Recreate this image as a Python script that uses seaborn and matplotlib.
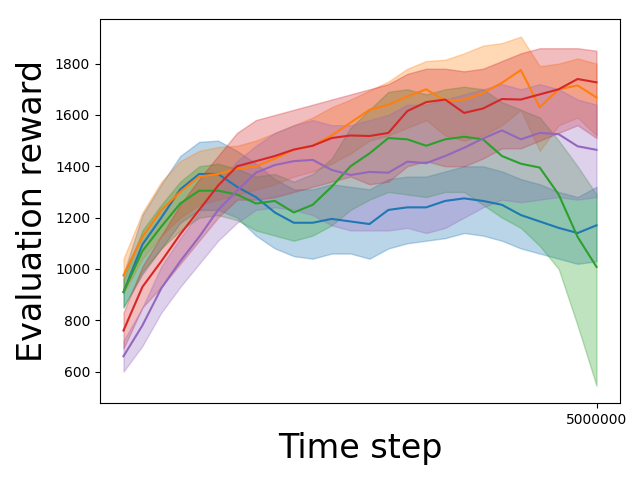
import numpy as np
import pandas as pd
import seaborn as sns
import matplotlib.pyplot as plt

# -----------------------------
# Data
# -----------------------------
steps = [0, 200000, 400000, 600000, 800000, 1000000, 1200000, 1400000, 1600000,
         1800000, 2000000, 2200000, 2400000, 2600000, 2800000, 3000000, 3200000,
         3400000, 3600000, 3800000, 4000000, 4200000, 4400000, 4600000, 4800000,
         5000000]

blue_mean = [910, 1095, 1200, 1310, 1370, 1370, 1320, 1280, 1220, 1180, 1180, 1195, 1185,
             1175, 1230, 1240, 1240, 1265, 1275, 1265, 1250, 1210, 1185, 1160, 1140, 1170]
blue_low = [850, 980, 1080, 1180, 1230, 1230, 1200, 1130, 1080, 1050, 1040, 1060, 1060,
            1040, 1080, 1100, 1110, 1120, 1140, 1130, 1110, 1080, 1060, 1040, 1020, 1030]
blue_high = [980, 1210, 1330, 1440, 1495, 1500, 1460, 1410, 1350, 1310, 1310, 1330, 1320,
             1310, 1350, 1360, 1360, 1380, 1400, 1400, 1380, 1350, 1330, 1300, 1280, 1320]

orange_mean = [975, 1125, 1230, 1300, 1360, 1370, 1390, 1400, 1430, 1465, 1480, 1520, 1570,
               1620, 1640, 1672, 1700, 1655, 1660, 1685, 1725, 1775, 1630, 1700, 1715, 1668]
orange_low = [905, 1040, 1130, 1200, 1250, 1270, 1290, 1310, 1330, 1360, 1380, 1410, 1450,
              1500, 1520, 1550, 1580, 1520, 1500, 1520, 1560, 1620, 1460, 1560, 1590, 1520]
orange_high = [1040, 1220, 1340, 1420, 1460, 1475, 1480, 1500, 1530, 1560, 1590, 1630, 1660,
               1695, 1730, 1780, 1810, 1815, 1840, 1870, 1880, 1905, 1790, 1800, 1820, 1800]

green_mean = [910, 1070, 1165, 1255, 1305, 1305, 1290, 1255, 1265, 1220, 1250, 1320, 1400,
              1450, 1510, 1505, 1480, 1505, 1515, 1505, 1440, 1410, 1395, 1290, 1125, 1008]
green_low = [850, 990, 1080, 1150, 1200, 1210, 1190, 1150, 1130, 1110, 1130, 1170, 1230,
             1270, 1300, 1290, 1280, 1300, 1300, 1250, 1200, 1160, 1090, 1000, 780, 545]
green_high = [960, 1150, 1250, 1340, 1400, 1410, 1390, 1360, 1370, 1340, 1370, 1430, 1550,
              1620, 1690, 1700, 1680, 1700, 1710, 1700, 1650, 1620, 1590, 1500, 1400, 1290]

red_mean = [760, 930, 1030, 1135, 1230, 1325, 1400, 1420, 1440, 1465, 1480, 1510, 1520,
            1518, 1530, 1615, 1650, 1660, 1608, 1625, 1662, 1660, 1680, 1700, 1740, 1727]
red_low = [690, 850, 930, 1020, 1110, 1200, 1270, 1270, 1280, 1300, 1320, 1340, 1360,
           1330, 1340, 1400, 1420, 1400, 1400, 1430, 1470, 1470, 1500, 1530, 1560, 1510]
red_high = [830, 1010, 1130, 1250, 1350, 1440, 1530, 1580, 1600, 1620, 1640, 1660, 1680,
            1700, 1720, 1760, 1780, 1780, 1770, 1780, 1810, 1840, 1860, 1860, 1860, 1850]

purple_mean = [660, 780, 925, 1030, 1125, 1230, 1305, 1375, 1405, 1420, 1425, 1386, 1366,
               1378, 1375, 1418, 1412, 1440, 1472, 1508, 1540, 1505, 1530, 1525, 1478, 1464]
purple_low = [600, 700, 830, 930, 1020, 1110, 1180, 1230, 1240, 1230, 1210, 1170, 1150,
              1150, 1150, 1160, 1140, 1160, 1200, 1240, 1270, 1260, 1270, 1280, 1270, 1280]
purple_high = [720, 850, 1010, 1120, 1220, 1330, 1420, 1480, 1530, 1560, 1580, 1560, 1560,
               1580, 1600, 1640, 1640, 1660, 1680, 1700, 1720, 1700, 1720, 1700, 1660, 1640]

runs = [
    (blue_mean, blue_low, blue_high),
    (orange_mean, orange_low, orange_high),
    (green_mean, green_low, green_high),
    (red_mean, red_low, red_high),
    (purple_mean, purple_low, purple_high),
]

# -----------------------------
# Plot
# -----------------------------
colors = sns.color_palette("tab10")
fig, ax = plt.subplots(figsize=(6.4, 4.8), dpi=100)

for i, (mean, low, high) in enumerate(runs):
    sns.lineplot(x=steps, y=mean, color=colors[i], ax=ax)
    ax.fill_between(steps, low, high, color=colors[i], alpha=0.3)

ax.set_xticks([5000000])
ax.set_xticklabels(["5000000"])
ax.set_xlabel("Time step", fontsize=24)
ax.set_ylabel("Evaluation reward", fontsize=24)

plt.subplots_adjust(left=0.156, right=0.969, top=0.96, bottom=0.16)
plt.savefig("out.png")
